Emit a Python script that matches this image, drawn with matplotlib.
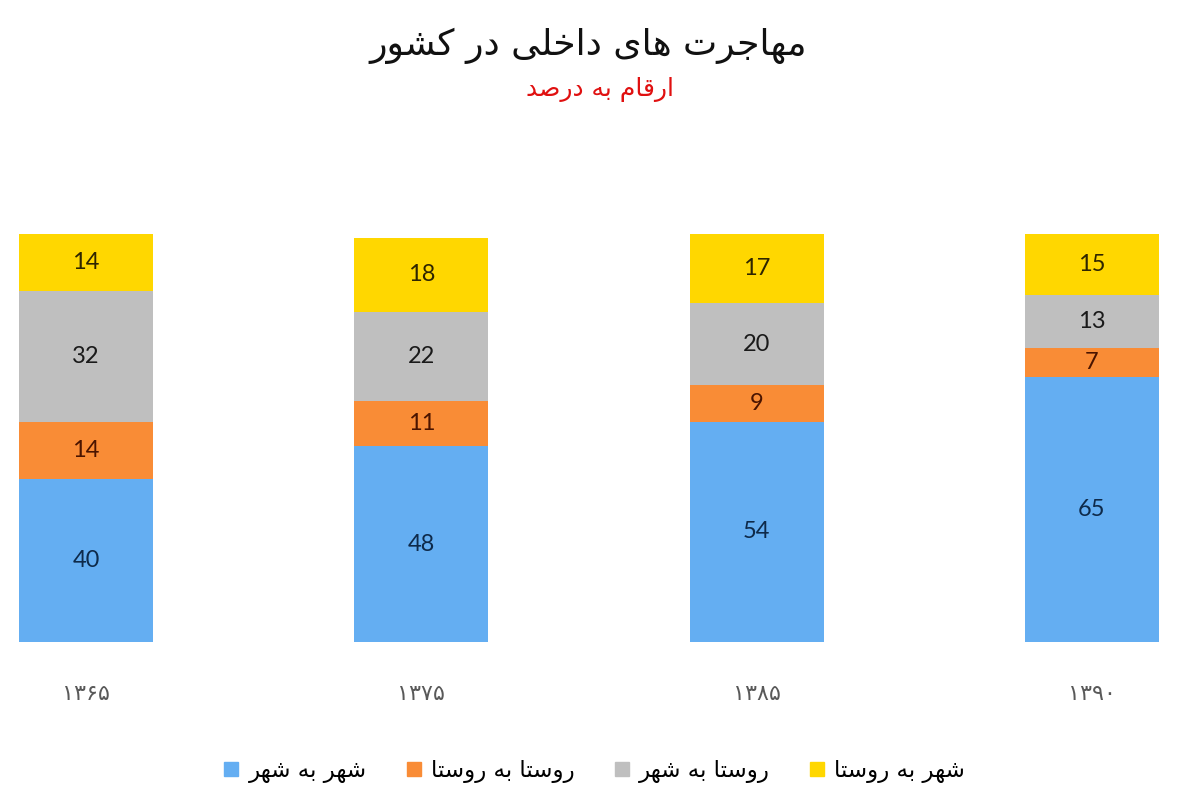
import matplotlib
matplotlib.use('Agg')
import matplotlib.pyplot as plt
from matplotlib.lines import Line2D
import numpy as np

# data (percent)
years = ['۱۳۶۵', '۱۳۷۵', '۱۳۸۵', '۱۳۹۰']
city_to_city = [40, 48, 54, 65]
village_to_village = [14, 11, 9, 7]
village_to_city = [32, 22, 20, 13]
city_to_village = [14, 18, 17, 15]
series_names = ['شهر به شهر', 'روستا به روستا', 'روستا به شهر', 'شهر به روستا']
title = 'مهاجرت های داخلی در کشور'
subtitle = 'ارقام به درصد'

colors = ['#64AEF2', '#F98C36', '#BFBFBF', '#FFD700']
text_colors = ['#0E2A4A', '#4A1400', '#1A1A1A', '#2E2500']

# matplotlib has no arabic shaping, so pick presentation forms by hand
# (isolated, final, initial, medial); None = letter does not join forward
FORMS = {
    'ا': ('\uFE8D', '\uFE8E', None, None),
    'ب': ('\uFE8F', '\uFE90', '\uFE91', '\uFE92'),
    'ت': ('\uFE95', '\uFE96', '\uFE97', '\uFE98'),
    'ج': ('\uFE9D', '\uFE9E', '\uFE9F', '\uFEA0'),
    'خ': ('\uFEA5', '\uFEA6', '\uFEA7', '\uFEA8'),
    'د': ('\uFEA9', '\uFEAA', None, None),
    'ر': ('\uFEAD', '\uFEAE', None, None),
    'س': ('\uFEB1', '\uFEB2', '\uFEB3', '\uFEB4'),
    'ش': ('\uFEB5', '\uFEB6', '\uFEB7', '\uFEB8'),
    'ص': ('\uFEB9', '\uFEBA', '\uFEBB', '\uFEBC'),
    'ق': ('\uFED5', '\uFED6', '\uFED7', '\uFED8'),
    'ل': ('\uFEDD', '\uFEDE', '\uFEDF', '\uFEE0'),
    'م': ('\uFEE1', '\uFEE2', '\uFEE3', '\uFEE4'),
    'ه': ('\uFEE9', '\uFEEA', '\uFEEB', '\uFEEC'),
    'و': ('\uFEED', '\uFEEE', None, None),
    'ک': ('\uFB8E', '\uFB8F', '\uFB90', '\uFB91'),
    'ی': ('\uFBFC', '\uFBFD', '\uFBFE', '\uFBFF'),
}


def fa(text):
    out = []
    for i, c in enumerate(text):
        if c not in FORMS:
            out.append(c)
            continue
        prev = text[i - 1] if i > 0 else None
        nxt = text[i + 1] if i + 1 < len(text) else None
        joins_prev = prev in FORMS and FORMS[prev][2] is not None
        joins_next = nxt in FORMS and FORMS[c][2] is not None
        iso, fin, ini, med = FORMS[c]
        if joins_prev and joins_next:
            out.append(med)
        elif joins_prev:
            out.append(fin)
        elif joins_next:
            out.append(ini)
        else:
            out.append(iso)
    return ''.join(reversed(out))


fa_font = ['DejaVu Sans']
num_font = ['Lato', 'DejaVu Sans']

fig = plt.figure(figsize=(12, 8), dpi=100)
fig.patch.set_facecolor('white')
ax = fig.add_axes([19 / 1200, 158 / 800, 1140 / 1200, 408 / 800])

x = np.arange(len(years))
width = 0.4
series = [city_to_city, village_to_village, village_to_city, city_to_village]
bottom = np.zeros(len(years))
for vals, col, tcol in zip(series, colors, text_colors):
    vals = np.array(vals, dtype=float)
    bars = ax.bar(x, vals, width, bottom=bottom, color=col, linewidth=0)
    ax.bar_label(bars, labels=[str(int(v)) for v in vals], label_type='center',
                 color=tcol, fontsize=17, family=num_font)
    bottom += vals

ax.set_xlim(-0.2, 3.2)
ax.set_ylim(0, 100)
ax.set_yticks([])
ax.set_xticks(x)
ax.set_xticklabels(years, family=fa_font, fontsize=16, color='#595959')
ax.tick_params(axis='x', length=0, pad=30)
for s in ax.spines.values():
    s.set_visible(False)

fig.text(0.49, 1 - 46 / 800, fa(title), ha='center', va='center',
         fontsize=26, family=fa_font, color='#111111')
fig.text(0.5, 1 - 89 / 800, fa(subtitle), ha='center', va='center',
         fontsize=18, family=fa_font, color='#E01010')

handles = [Line2D([], [], linestyle='none', marker='s', markersize=10.5,
                  markerfacecolor=c, markeredgecolor=c) for c in colors]
fig.legend(handles, [fa(n) for n in series_names], loc='center',
           bbox_to_anchor=(0.495, 1 - 771 / 800), ncol=4, frameon=False,
           prop={'family': fa_font, 'size': 16.5}, handlelength=0.7,
           handletextpad=0.4, columnspacing=1.7)

fig.savefig('out.png', dpi=100, facecolor='white')
